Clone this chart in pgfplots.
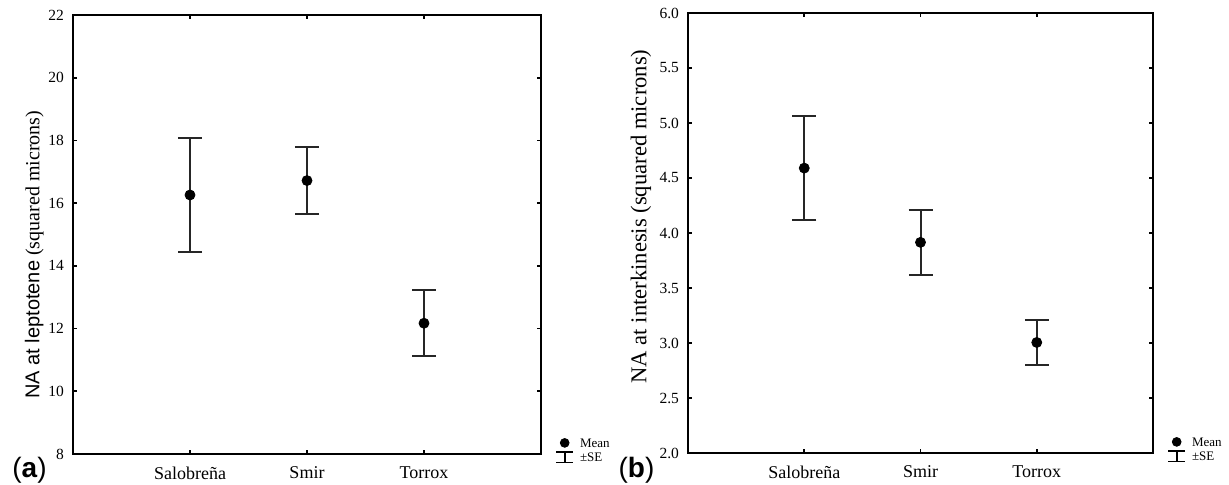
\documentclass[border=0pt]{standalone}
\usepackage{pgfplots}
\pgfplotsset{compat=1.18}
\usepackage{fontspec}
\setmainfont{Liberation Serif}
\newfontfamily\arial{Liberation Sans}

\pgfplotstableread{
x  mean   se
1  16.26  1.83
2  16.72  1.08
3  12.17  1.05
}\leptotene

\pgfplotstableread{
x  mean   se
1  4.590  0.470
2  3.915  0.295
3  3.005  0.205
}\interkinesis

\pgfplotsset{
  meanse/.style={
    scale only axis,
    xmin=0, xmax=4,
    xtick={1,2,3},
    xticklabels={Salobreña,Smir,Torrox},
    axis line style={line width=1bp},
    major tick style={line width=0.8bp, black},
    major tick length=2bp,
    tick align=inside,
    xticklabel style={font=\fontsize{9bp}{10bp}\selectfont, yshift=-3bp},
    yticklabel style={font=\fontsize{7.75bp}{9bp}\selectfont, xshift=-1bp},
    /pgf/number format/assume math mode=true,
    ylabel style={anchor=center},
    legend cell align=left,
    legend style={draw=none, fill=none, at={(1,0)}, anchor=west,
      xshift=7bp, yshift=1.6bp, inner sep=0pt, row sep=1.9bp, column sep=3bp,
      nodes={inner sep=0pt, text height=4.4bp, text depth=0pt,
        font=\fontsize{6.5bp}{7bp}\selectfont}},
  },
  meanmark/.style={forget plot, only marks, mark=*, mark size=2.5bp, black,
    error bars/.cd, y dir=both, y explicit,
    error bar style={line width=1bp, black!85},
    error mark options={rotate=90, line width=1bp, mark size=6bp, black!85},
    /pgfplots/.cd},
}

\begin{document}
\begin{tikzpicture}
\path[use as bounding box] (0,0) rectangle (614.5bp,242.5bp);

\begin{axis}[meanse,
  at={(36.5bp,15.5bp)}, anchor=south west,
  width=234bp, height=219.5bp,
  ymin=8, ymax=22, ytick={8,10,...,22},
  ylabel style={at={(axis description cs:-0.083,0.454)}, font=\fontsize{10bp}{12bp}\selectfont},
  ylabel={{\arial NA at leptotene} (squared microns)},
]
\addplot[meanmark] table[x=x, y=mean, y error=se] {\leptotene};
\addlegendimage{legend image code/.code={\fill (4.25bp,0) circle (2.2bp);}}
\addlegendentry{Mean}
\addlegendimage{legend image code/.code={\draw[line width=0.8bp] (0,2.6bp) -- (8.5bp,2.6bp) (4.25bp,2.6bp) -- (4.25bp,-2.6bp) (0,-2.6bp) -- (8.5bp,-2.6bp);}}
\addlegendentry{±SE}
\end{axis}

\begin{axis}[meanse,
  at={(344bp,16bp)}, anchor=south west,
  width=232.5bp, height=220bp,
  ymin=2, ymax=6, ytick={2,2.5,...,6},
  yticklabel style={/pgf/number format/.cd, fixed, fixed zerofill, precision=1},
  ylabel style={at={(axis description cs:-0.101,0.5375)}, font=\fontsize{11.3bp}{13bp}\selectfont},
  ylabel={NA at interkinesis (squared microns)},
]
\addplot[meanmark] table[x=x, y=mean, y error=se] {\interkinesis};
\addlegendimage{legend image code/.code={\fill (4.25bp,0) circle (2.2bp);}}
\addlegendentry{Mean}
\addlegendimage{legend image code/.code={\draw[line width=0.8bp] (0,2.6bp) -- (8.5bp,2.6bp) (4.25bp,2.6bp) -- (4.25bp,-2.6bp) (0,-2.6bp) -- (8.5bp,-2.6bp);}}
\addlegendentry{±SE}
\end{axis}

\node[font=\arial\fontsize{14bp}{16bp}\selectfont] at (14.75bp,7.25bp) {(\textbf{a})};
\node[font=\arial\fontsize{14bp}{16bp}\selectfont] at (318.25bp,7.25bp) {(\textbf{b})};
\end{tikzpicture}
\end{document}
